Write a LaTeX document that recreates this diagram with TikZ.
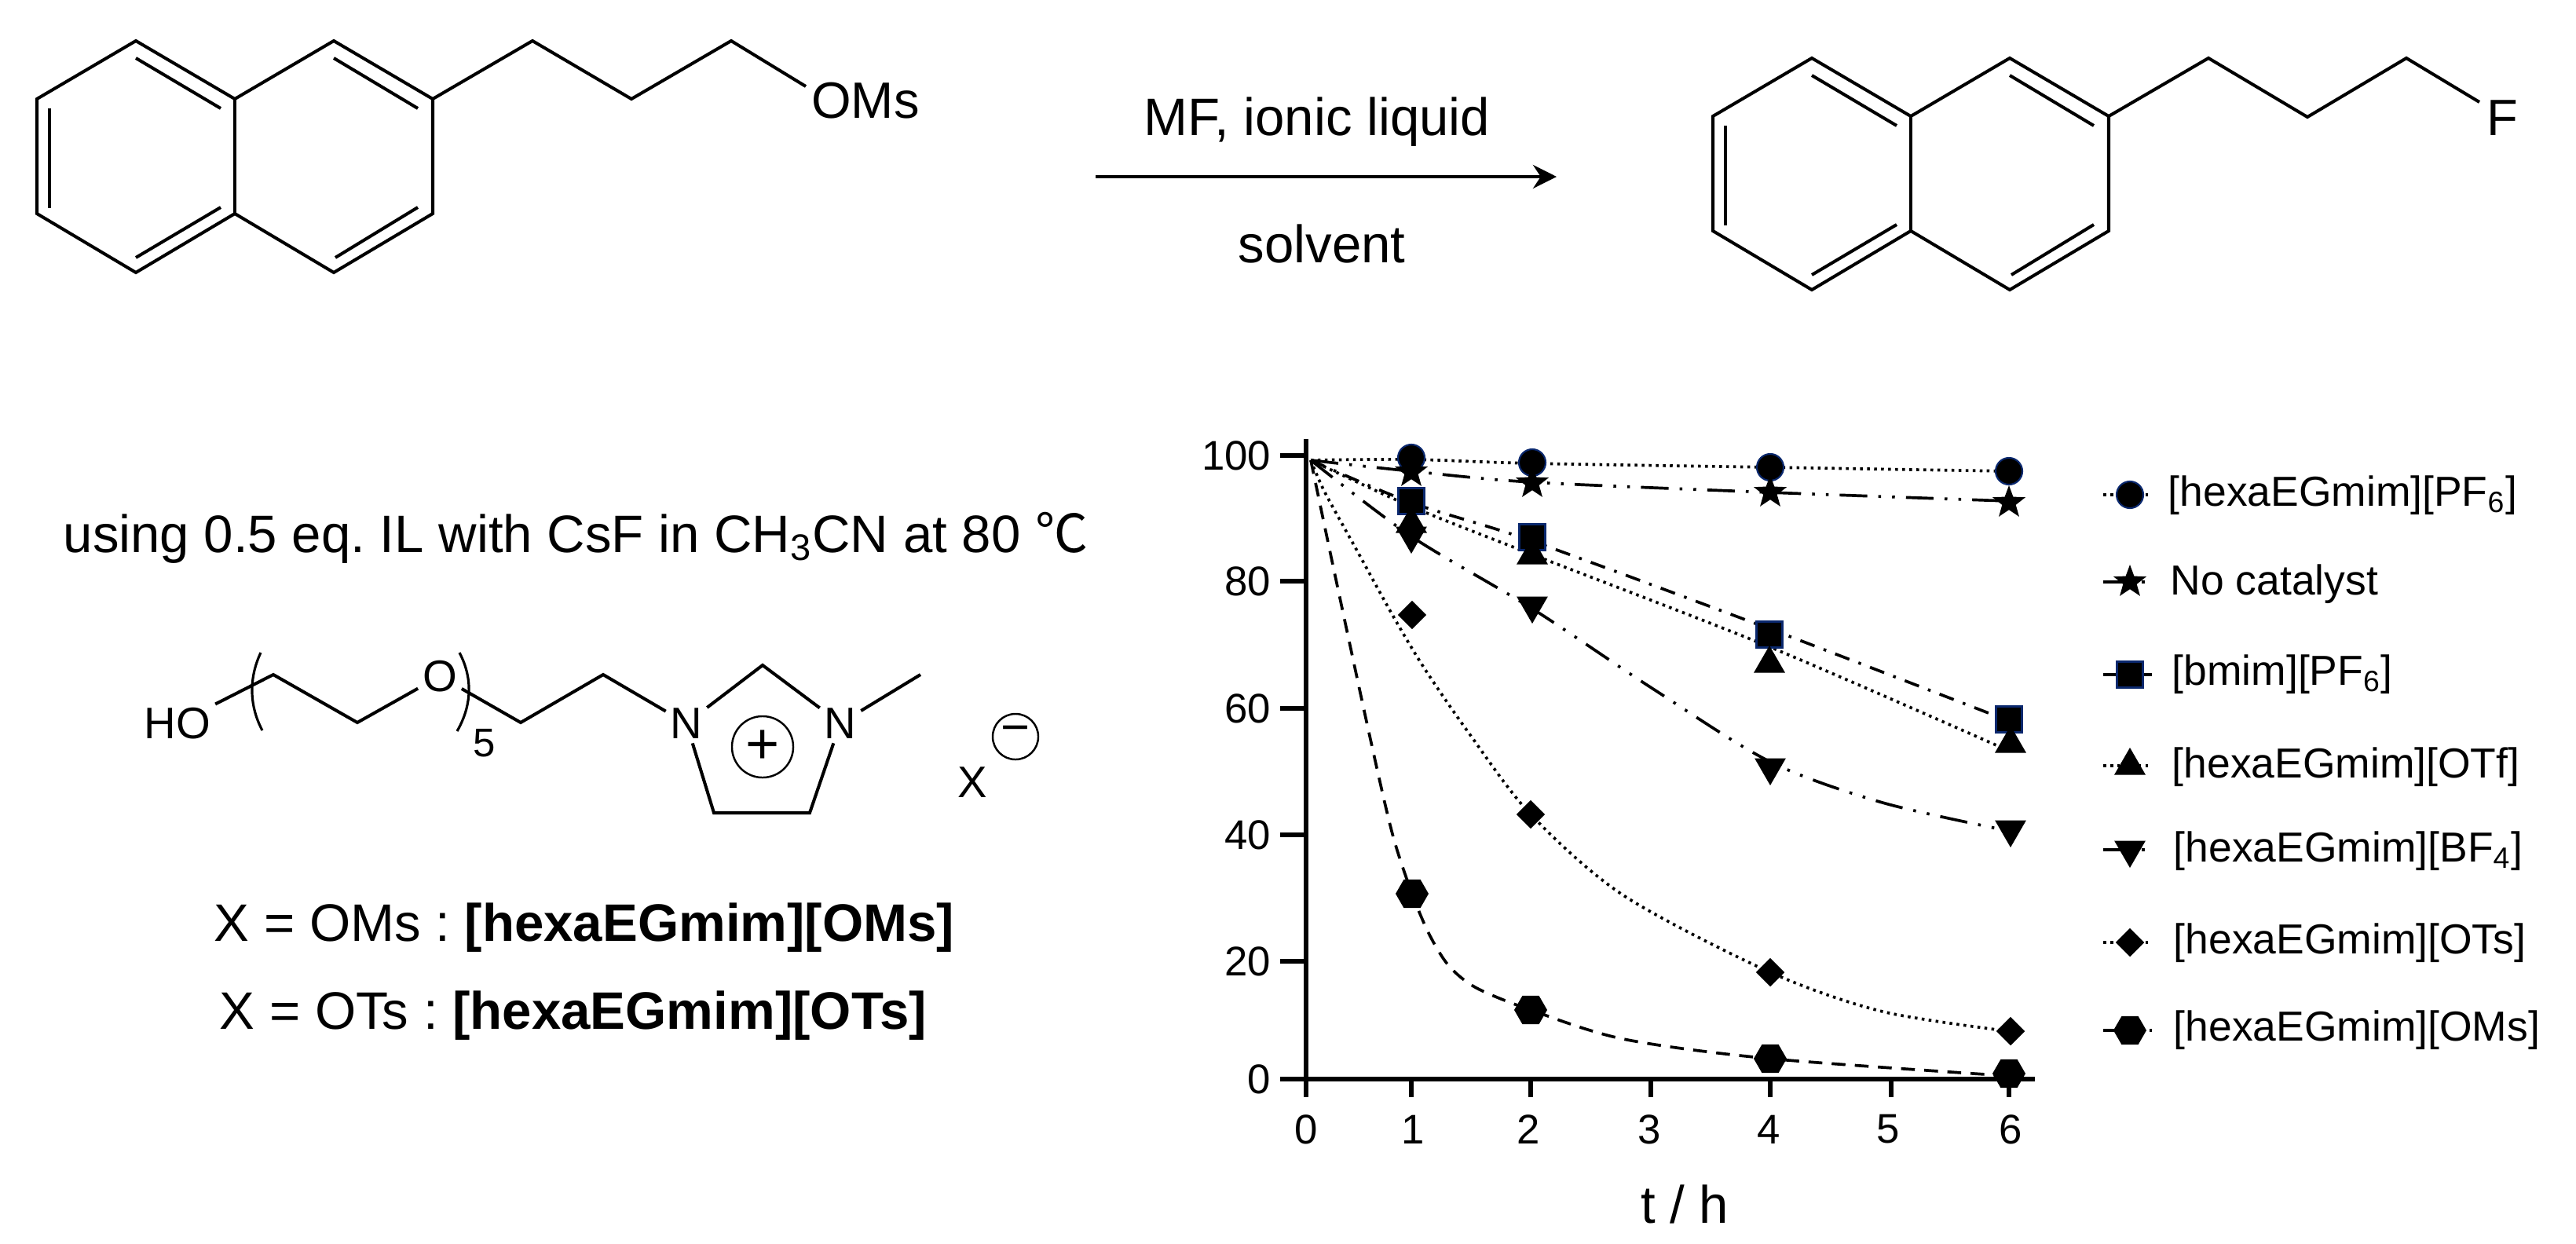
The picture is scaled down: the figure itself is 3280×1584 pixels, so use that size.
\documentclass[tikz,border=0pt]{standalone}
\usepackage{fontspec}
\setmainfont{Liberation Sans}
\newfontfamily\cjk{Noto Sans CJK SC}
\usetikzlibrary{positioning, shapes.geometric, arrows.meta}
\definecolor{markblue}{RGB}{10,40,110}
\frenchspacing

\tikzset{
    naph/.pic={
        \coordinate (-c1) at (378,74);
        \draw[bond] (0,0) -- (-126,74) -- (-126,220) -- (0,295) -- (126,220) -- (252,295) -- (378,220) -- (378,74) -- (252,0) -- (126,74) -- cycle;
        \draw[bond, line width=0.9pt] (126,74) -- (126,220);
        \draw[bond] (0,22) -- (108,86);
        \draw[bond, line width=0.9pt] (-110,86) -- (-110,213);
        \draw[bond] (0,276) -- (108,212);
        \draw[bond] (252,22) -- (359,86);
        \draw[bond] (254,276) -- (359,212);
    }
}

\begin{document}
\begin{tikzpicture}[
    x=0.01cm, y=-0.01cm,
    bond/.style={line width=1.15pt, line join=miter},
    biglabel/.style={font=\fontsize{19.1}{23}\selectfont, inner sep=0pt},
    atomlabel/.style={font=\fontsize{16}{19}\selectfont, inner sep=1.5pt},
    ticklabel/.style={font=\fontsize{15}{18}\selectfont, inner sep=0pt},
    legendlabel/.style={font=\fontsize{15.2}{18}\selectfont, inner sep=0pt, anchor=base west},
    axisline/.style={line width=1.7pt},
    reaction/.style={line width=1.2pt, -{Stealth[length=0.3cm, width=0.3cm]}},
    dotcurve/.style={line width=1.05pt, dash pattern=on 1pt off 1.55pt},
    dashcurve/.style={line width=1.05pt, dash pattern=on 5pt off 3.4pt},
    dotdashcurve/.style={line width=1.05pt, dash pattern=on 5.5pt off 3.5pt on 1pt off 3.5pt},
    longdashcurve/.style={line width=1.05pt, dash pattern=on 10pt off 4pt on 1pt off 4pt on 1pt off 4pt},
    markcircle/.style={circle, fill=black, draw=markblue, line width=0.6pt, minimum size=0.34cm, inner sep=0pt},
    marksquare/.style={rectangle, fill=black, draw=markblue, line width=0.6pt, minimum size=0.33cm, inner sep=0pt},
    markstar/.style={star, star points=5, star point ratio=2.4, fill=black, minimum size=0.44cm, inner sep=0pt},
    markup/.style={regular polygon, regular polygon sides=3, fill=black, minimum size=0.46cm, inner sep=0pt},
    markdown/.style={regular polygon, regular polygon sides=3, shape border rotate=180, fill=black, minimum size=0.46cm, inner sep=0pt},
    markdiamond/.style={diamond, fill=black, minimum size=0.37cm, inner sep=0pt},
    markhex/.style={regular polygon, regular polygon sides=6, fill=black, minimum size=0.42cm, inner sep=0pt}
]
\useasboundingbox (0,0) rectangle (3280,1584);

\pic (lnap) at (173,52) {naph};
\coordinate (la) at (678,52);
\coordinate (lb) at (804,126);
\coordinate (lc) at (931,52);
\coordinate (ld) at (1026,110);
\node[biglabel, font=\fontsize{18.5}{22}\selectfont] (oms) at (1102,128) {OMs};
\draw[bond] (lnap-c1) -- (la) -- (lb) -- (lc) -- (ld);

\coordinate (rxnl) at (1395,225);
\coordinate (rxnr) at (1982,225);
\draw[reaction] (rxnl) -- (rxnr);
\node[biglabel, anchor=base] (mf) at (1677,172) {MF, ionic liquid};
\node[biglabel, anchor=base] (solv) at (1683,334) {solvent};

\pic (rnap) at (2307,74) {naph};
\coordinate (ra) at (2812,74);
\coordinate (rb) at (2938,149);
\coordinate (rc) at (3064,74);
\coordinate (rd) at (3157,130);
\node[biglabel, font=\fontsize{18.5}{22}\selectfont] (fl) at (3186,150) {F};
\draw[bond] (rnap-c1) -- (ra) -- (rb) -- (rc) -- (rd);

\node[biglabel, anchor=base west] (cond) at (80,703) {using 0.5 eq. IL with CsF in CH\textsubscript{3}CN at 80 {\cjk ℃}};

\node[atomlabel] (ho) at (226,921) {HO};
\coordinate (pa) at (348,859);
\coordinate (pb) at (455,920);
\node[atomlabel] (oa) at (560,861) {O};
\coordinate (pc) at (663,920);
\coordinate (pd) at (768,859);
\node[atomlabel] (na) at (874,921) {N};
\coordinate (pe) at (971,847);
\node[atomlabel] (nb) at (1070,921) {N};
\coordinate (pf) at (1172,859);
\coordinate (pg) at (909,1035);
\coordinate (ph) at (1031,1035);
\draw[bond] (ho) -- (pa) -- (pb) -- (oa) -- (pc) -- (pd) -- (na) -- (pe) -- (nb) -- (pf);
\draw[bond] (na) -- (pg) -- (ph) -- (nb);
\coordinate (lpa) at (332,831);
\coordinate (lpb) at (334,930);
\coordinate (rpa) at (585,831);
\coordinate (rpb) at (582,931);
\draw[bond, line width=0.9pt] (lpa) .. controls (316,865) and (318,900) .. (lpb);
\draw[bond, line width=0.9pt] (rpa) .. controls (603,865) and (600,900) .. (rpb);
\node[atomlabel, inner sep=0pt, font=\fontsize{14.5}{17}\selectfont] (five) at (617,946) {5};
\node[circle, draw, line width=0.7pt, minimum size=0.78cm, inner sep=0pt, font=\fontsize{21}{24}\selectfont] (plus) at (971,951) {+};
\node[atomlabel, inner sep=0pt] (xa) at (1238,996) {X};
\node[circle, draw, line width=0.7pt, minimum size=0.58cm, inner sep=0pt, font=\fontsize{18}{20}\selectfont] (minus) at (1293,938) {\raisebox{0.1ex}{−}};

\node[biglabel, anchor=base west] (xoms) at (272,1198) {X = OMs : \textbf{[hexaEGmim][OMs]}};
\node[biglabel, anchor=base west] (xots) at (279,1310) {X = OTs : \textbf{[hexaEGmim][OTs]}};

\draw[axisline] (1663,559) -- (1663,1397);
\draw[axisline] (1630,1374) -- (2591,1374);
\draw[axisline] (1630,580) -- (1663,580);
\draw[axisline] (1630,740) -- (1663,740);
\draw[axisline] (1630,902) -- (1663,902);
\draw[axisline] (1630,1063) -- (1663,1063);
\draw[axisline] (1630,1224) -- (1663,1224);
\draw[axisline] (1797,1374) -- (1797,1397);
\draw[axisline] (1949,1374) -- (1949,1397);
\draw[axisline] (2102,1374) -- (2102,1397);
\draw[axisline] (2254,1374) -- (2254,1397);
\draw[axisline] (2408,1374) -- (2408,1397);
\draw[axisline] (2558,1374) -- (2558,1397);
\node[ticklabel, anchor=east] (ya) at (1619,580) {100};
\node[ticklabel, anchor=east] (yb) at (1619,740) {80};
\node[ticklabel, anchor=east] (yc) at (1619,902) {60};
\node[ticklabel, anchor=east] (yd) at (1619,1063) {40};
\node[ticklabel, anchor=east] (ye) at (1619,1224) {20};
\node[ticklabel, anchor=east] (yf) at (1619,1374) {0};
\node[ticklabel] (xta) at (1663,1438) {0};
\node[ticklabel] (xtb) at (1799,1438) {1};
\node[ticklabel] (xtc) at (1946,1438) {2};
\node[ticklabel] (xtd) at (2100,1438) {3};
\node[ticklabel] (xte) at (2252,1438) {4};
\node[ticklabel] (xtf) at (2404,1438) {5};
\node[ticklabel] (xtg) at (2560,1438) {6};
\node[biglabel, anchor=base] (xlab) at (2145,1557) {t / h};

\coordinate (orig) at (1669,586);
\draw[dotcurve] plot[smooth] coordinates {(orig) (1797,585) (1951,590) (2254,595) (2558,600)};
\draw[longdashcurve] plot[smooth] coordinates {(orig) (1797,600) (1951,614) (2254,627) (2558,638)};
\draw[dotdashcurve] plot[smooth] coordinates {(orig) (1797,640) (1951,689) (2254,801) (2558,918)};
\draw[dotcurve] plot[smooth] coordinates {(orig) (1797,645) (1951,706) (2254,824) (2558,956)};
\draw[longdashcurve] plot[smooth] coordinates {(orig) (1797,683) (1951,775) (2103,876) (2254,970) (2397,1022) (2558,1058)};
\draw[dotcurve] plot[smooth] coordinates {(orig) (1687,627) (1730,705) (1773,783) (1813,850) (1870,933) (1949,1037) (2067,1140) (2254,1238) (2397,1288) (2558,1313)};
\draw[dashcurve] plot[smooth] coordinates {(orig) (1700,733) (1744,937) (1773,1062) (1798,1138) (1820,1190) (1845,1230) (1880,1258) (1949,1286) (2067,1323) (2254,1348) (2558,1370)};

\node[markcircle] (ca) at (1797,583) {};
\node[markcircle] (cb) at (1951,589) {};
\node[markcircle] (cc) at (2254,595) {};
\node[markcircle] (cd) at (2558,600) {};
\node[markstar] (sa) at (1797,601) {};
\node[markstar] (sb) at (1951,615) {};
\node[markstar] (sc) at (2254,627) {};
\node[markstar] (sd) at (2558,640) {};
\node[marksquare] (qa) at (1797,638) {};
\node[marksquare] (qb) at (1951,684) {};
\node[marksquare] (qc) at (2253,808) {};
\node[marksquare] (qd) at (2558,916) {};
\node[markup] (ua) at (1797,667) {};
\node[markup] (ub) at (1951,707) {};
\node[markup] (uc) at (2253,845) {};
\node[markup] (ud) at (2560,947) {};
\node[markdown] (da) at (1797,682) {};
\node[markdown] (db) at (1951,771) {};
\node[markdown] (dc) at (2254,977) {};
\node[markdown] (dd) at (2560,1056) {};
\node[markdiamond] (ea) at (1798,783) {};
\node[markdiamond] (eb) at (1949,1037) {};
\node[markdiamond] (ec) at (2254,1238) {};
\node[markdiamond] (ed) at (2560,1313) {};
\node[markhex] (ha) at (1798,1138) {};
\node[markhex] (hb) at (1949,1286) {};
\node[markhex] (hc) at (2254,1348) {};
\node[markhex] (hd) at (2558,1367) {};

\draw[dotcurve] (2678,630) -- (2740,630);
\node[markcircle] (lega) at (2712,630) {};
\node[legendlabel] (laba) at (2760,644) {[hexaEGmim][PF\textsubscript{6}]};
\draw[longdashcurve] (2678,741) -- (2740,741);
\node[markstar] (legb) at (2712,741) {};
\node[legendlabel] (labb) at (2763,757) {No catalyst};
\draw[dotdashcurve] (2678,859) -- (2740,859);
\node[marksquare] (legc) at (2712,859) {};
\node[legendlabel] (labc) at (2765,872) {[bmim][PF\textsubscript{6}]};
\draw[dotcurve] (2678,975) -- (2740,975);
\node[markup] (legd) at (2712,975) {};
\node[legendlabel] (labd) at (2765,990) {[hexaEGmim][OTf]};
\draw[longdashcurve] (2678,1082) -- (2740,1082);
\node[markdown] (lege) at (2712,1082) {};
\node[legendlabel] (labe) at (2767,1097) {[hexaEGmim][BF\textsubscript{4}]};
\draw[dotcurve] (2678,1200) -- (2740,1200);
\node[markdiamond] (legf) at (2712,1200) {};
\node[legendlabel] (labf) at (2767,1214) {[hexaEGmim][OTs]};
\draw[dashcurve] (2678,1312) -- (2740,1312);
\node[markhex] (legg) at (2712,1312) {};
\node[legendlabel] (labg) at (2767,1325) {[hexaEGmim][OMs]};

\end{tikzpicture}
\end{document}
